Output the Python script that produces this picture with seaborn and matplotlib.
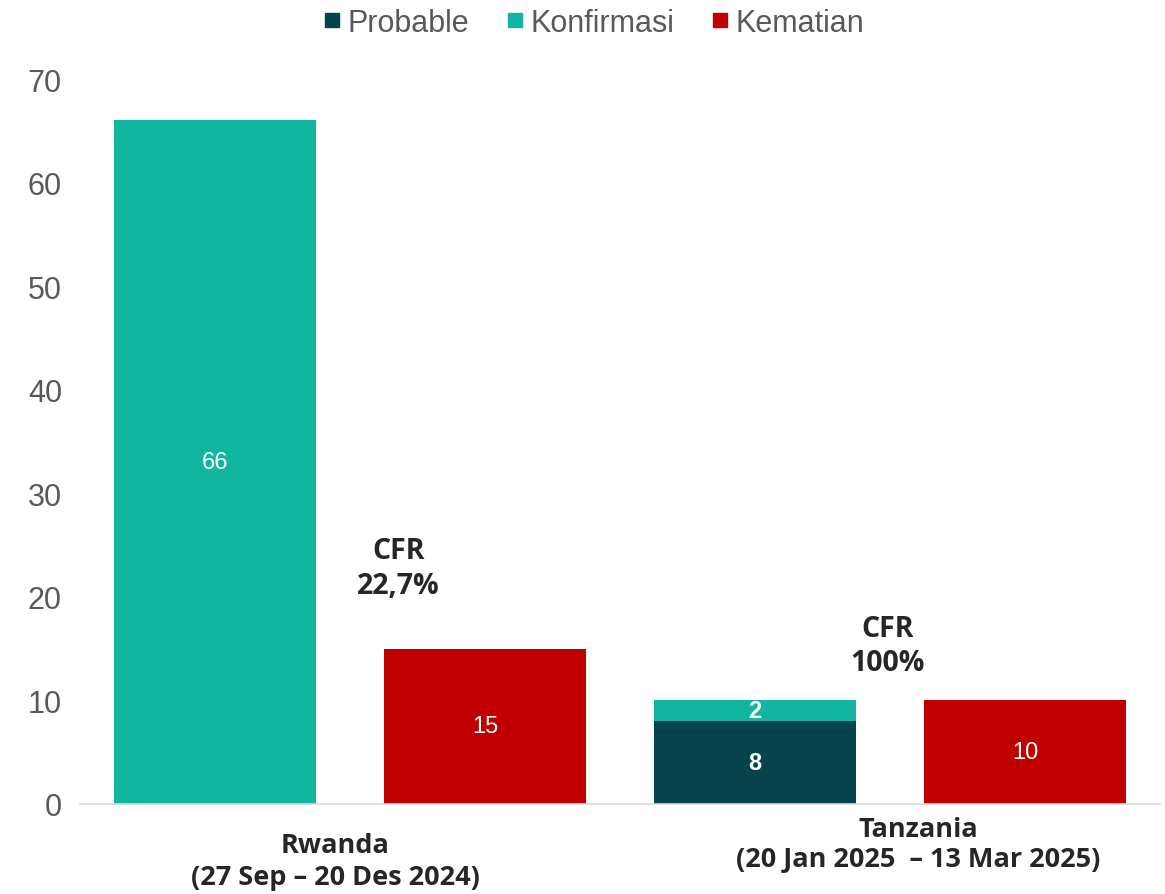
import pandas as pd
import matplotlib.pyplot as plt
import seaborn as sns
from matplotlib.lines import Line2D

# bar slots (cases / deaths per outbreak)
bars = ["Rwanda kasus", "Rwanda kematian", "Tanzania kasus", "Tanzania kematian"]
probable = [0, 0, 8, 0]
konfirmasi = [66, 0, 2, 0]
kematian = [0, 15, 0, 10]
countries = ["Rwanda\n(27 Sep \u2013 20 Des 2024)", "Tanzania\n(20 Jan 2025  \u2013 13 Mar 2025)"]
cfr_labels = ["CFR\n22,7%", "CFR\n100%"]

colors = {"Probable": "#07434D", "Konfirmasi": "#12B5A0", "Kematian": "#C00000"}

totals = [p + k + d for p, k, d in zip(probable, konfirmasi, kematian)]
top_series = ["Konfirmasi" if k > 0 else "Kematian" for k in konfirmasi]
df_top = pd.DataFrame({"bar": bars, "value": totals, "series": top_series})
df_prob = pd.DataFrame({"bar": bars, "value": probable})

sns.set_style("white")
fig = plt.figure(figsize=(11.65, 8.95), dpi=100)
ax = fig.add_axes([0.0687, 0.1006, 0.927, 0.81])

w = 0.745
sns.barplot(data=df_top, x="bar", y="value", hue="series", order=bars,
            palette=colors, dodge=False, width=w, ax=ax, legend=False,
            saturation=1, linewidth=0)
sns.barplot(data=df_prob[df_prob["value"] > 0], x="bar", y="value", order=bars,
            color=colors["Probable"], width=w, ax=ax, saturation=1, linewidth=0)

# value labels inside bars
lbl = dict(ha="center", va="center", color="white", fontsize=17, family="Liberation Sans")
for i, b in enumerate(bars):
    if probable[i] > 0:
        ax.text(i, probable[i] / 2, str(probable[i]), fontweight="bold", **lbl)
    if konfirmasi[i] > 0:
        ax.text(i, probable[i] + konfirmasi[i] / 2, str(konfirmasi[i]),
                fontweight="bold" if konfirmasi[i] < 5 else "normal", **lbl)
    if kematian[i] > 0:
        ax.text(i, kematian[i] / 2, str(kematian[i]), **lbl)

# CFR annotations
ax.text(0.68, 22.8, cfr_labels[0], ha="center", va="center", fontsize=20.5,
        fontweight="bold", family="Open Sans", linespacing=1.25)
ax.text(2.49, 15.3, cfr_labels[1], ha="center", va="center", fontsize=20.5,
        fontweight="bold", family="Open Sans", linespacing=1.25)

# category labels
ax.text(0.446, -5.5, countries[0], ha="center", va="center", fontsize=19.5,
        fontweight="bold", family="Open Sans", linespacing=1.3)
ax.text(2.606, -3.9, countries[1], ha="center", va="center", fontsize=19.5,
        fontweight="bold", family="Open Sans", linespacing=1.2)

ax.set_xlim(-0.5, 3.5)
ax.set_ylim(0, 70)
ax.set_yticks(range(0, 71, 10))
ax.set_xticks([])
ax.set_xlabel("")
ax.set_ylabel("")
ax.tick_params(axis="y", length=0, labelsize=22, labelcolor="#595959", pad=13)
for lab in ax.get_yticklabels():
    lab.set_family("Liberation Sans")
for s in ["left", "right", "top"]:
    ax.spines[s].set_visible(False)
ax.spines["bottom"].set_color("#D9D9D9")
ax.spines["bottom"].set_linewidth(1.2)

handles = [Line2D([], [], marker="s", linestyle="", markersize=10,
                  markerfacecolor=c, markeredgecolor=c) for c in colors.values()]
fig.legend(handles, list(colors.keys()), loc="center", bbox_to_anchor=(0.508, 0.973),
           ncol=3, frameon=False, prop={"family": "Liberation Sans", "size": 22},
           labelcolor="#595959", handletextpad=0.1, columnspacing=1.1, handlelength=0.8)

fig.savefig("out.png", dpi=100)
